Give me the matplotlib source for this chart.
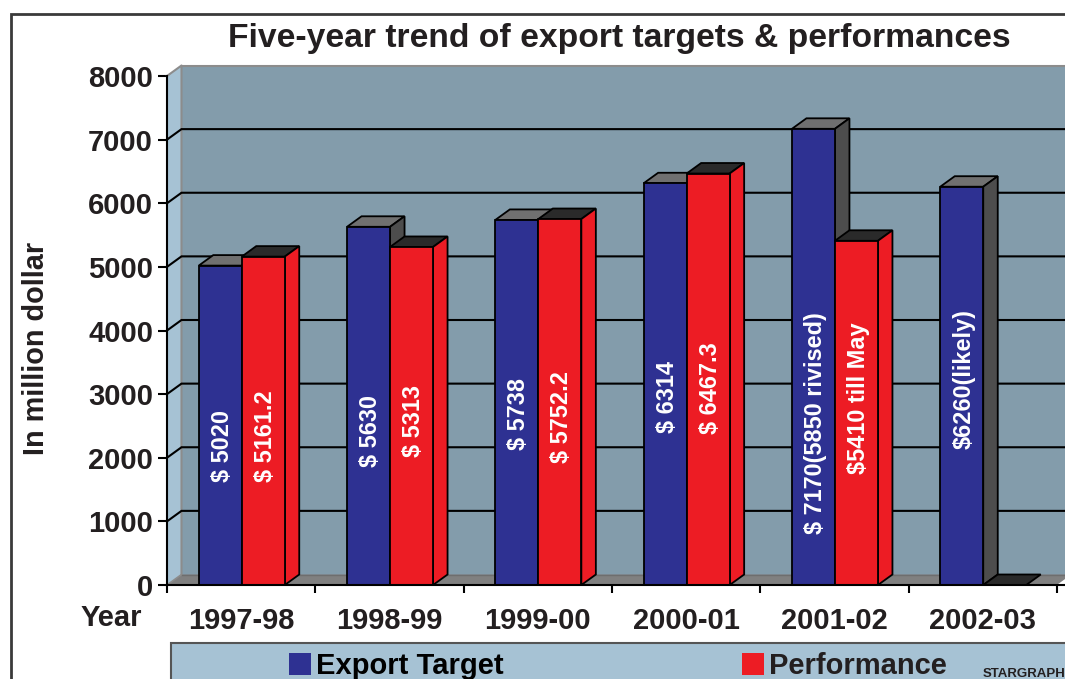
import matplotlib
matplotlib.use("Agg")
import matplotlib.pyplot as plt
from matplotlib.lines import Line2D
from matplotlib.patches import Patch, Polygon, Rectangle

# ---------- data ----------
categories = ["1997-98", "1998-99", "1999-00", "2000-01", "2001-02", "2002-03"]
export_target = [5020, 5630, 5738, 6314, 7170, 6260]
performance = [5161.2, 5313, 5752.2, 6467.3, 5410, 0]
export_labels = ["$ 5020", "$ 5630", "$ 5738", "$ 6314", "$ 7170(5850 rivised)", "$6260(likely)"]
perf_labels = ["$ 5161.2", "$ 5313", "$ 5752.2", "$ 6467.3", "$5410 till May", ""]
yticks = [0, 1000, 2000, 3000, 4000, 5000, 6000, 7000, 8000]
# vertical centre of each rotated label, in axis units
export_label_y = [2185, 2413, 2688, 2955, 2538, 3238]
perf_label_y = [2342, 2578, 2648, 3088, 2939, 0]

# ---------- layout (pixels of the 1065x679 canvas) ----------
W, H = 1065, 679
X0, Y0, Y8000, CAT_W = 167, 585, 76, 148.3
DX = 14.5 / CAT_W                       # depth offset, x units
DY = 10.5 / ((Y0 - Y8000) / 8000)       # depth offset, y units
BAR_W = 43 / CAT_W
XMAX = (W - X0) / CAT_W
LABEL_NUDGE = 2 / CAT_W
BAR_NUDGE = 0.6 / CAT_W

INK = "#231F20"
WALL, SIDE, FLOOR = "#839CAB", "#A6C2D4", "#808080"
BLUE, RED = "#2E3192", "#ED1C24"
BLUE_TOP, BLUE_SIDE = "#707070", "#4D4D4D"
RED_TOP, RED_SIDE = "#2A2A2A", "#ED1C24"
FONT = "Liberation Sans"

plt.rcParams["font.family"] = FONT
plt.rcParams["font.weight"] = "bold"

fig = plt.figure(figsize=(W / 100, H / 100), dpi=100, facecolor="white")
ax = fig.add_axes([X0 / W, (H - Y0) / H, (W - X0) / W, (Y0 - Y8000) / H])
ax.set_xlim(0, XMAX)
ax.set_ylim(0, 8000)
ax.patch.set_visible(False)
for s in ("top", "right"):
    ax.spines[s].set_visible(False)
for s in ("left", "bottom"):
    ax.spines[s].set_linewidth(1.5)
    ax.spines[s].set_color("black")
    ax.spines[s].set_zorder(8)


def poly(pts, fc, ec="none", lw=0, z=1):
    ax.add_patch(Polygon(pts, closed=True, facecolor=fc, edgecolor=ec, linewidth=lw,
                         joinstyle="miter", clip_on=False, zorder=z))


# walls and floor
far = XMAX + 1
poly([(DX, DY), (far, DY), (far, 8000 + DY), (DX, 8000 + DY)], WALL, z=1)
poly([(0, 0), (DX, DY), (DX, 8000 + DY), (0, 8000)], SIDE, z=1)
poly([(0, 0), (6, 0), (6 + DX, DY), (far, DY), (DX, DY)], FLOOR, z=1)
ax.plot([0, DX, DX], [8000, 8000 + DY, DY], color="#8C8C8C", lw=1.5, clip_on=False, zorder=2)
ax.plot([DX, XMAX], [8000 + DY, 8000 + DY], color="#8C8C8C", lw=1.5, clip_on=False, zorder=2)
ax.plot([0, DX], [0, DY], color="#8C8C8C", lw=1.2, clip_on=False, zorder=2)
ax.plot([DX, XMAX], [DY, DY], color="#6E6E6E", lw=1.0, clip_on=False, zorder=2)
for v in yticks[1:-1]:
    ax.plot([0, DX, XMAX], [v, v + DY, v + DY], color="black", lw=1.5,
            clip_on=False, zorder=2, solid_joinstyle="miter")

# bars
xpos = [i + 0.5 + BAR_NUDGE for i in range(len(categories))]
for i in range(len(categories)):
    xb = xpos[i] - BAR_W
    xr = xpos[i]
    for x, v, top, side, z in ((xb, export_target[i], BLUE_TOP, BLUE_SIDE, 3),
                               (xr, performance[i], RED_TOP, RED_SIDE, 4)):
        poly([(x, v), (x + BAR_W, v), (x + BAR_W + DX, v + DY), (x + DX, v + DY)], top,
             "black", 1.3, z)
        if v > 0:
            poly([(x + BAR_W, 0), (x + BAR_W + DX, DY), (x + BAR_W + DX, v + DY), (x + BAR_W, v)],
                 side, "black", 1.3, z)

ax.bar([x - BAR_W / 2 for x in xpos], export_target, BAR_W, color=BLUE, edgecolor="black",
       linewidth=1.3, zorder=3.5, clip_on=False)
ax.bar([x + BAR_W / 2 for x in xpos], performance, BAR_W, color=RED, edgecolor="black",
       linewidth=1.3, zorder=4.5, clip_on=False)

for x, t, y in zip(xpos, export_labels, export_label_y):
    ax.text(x - BAR_W / 2 + LABEL_NUDGE, y, t, rotation=90, ha="center", va="center", color="white",
            fontsize=16.9, fontweight="bold", zorder=6)
for x, t, y in zip(xpos, perf_labels, perf_label_y):
    if t:
        ax.text(x + BAR_W / 2 + LABEL_NUDGE, y, t, rotation=90, ha="center", va="center", color="white",
                fontsize=16.9, fontweight="bold", zorder=6)

# axes ticks and labels
ax.set_yticks(yticks)
ax.set_yticklabels([str(v) for v in yticks], fontsize=21, fontweight="bold", color=INK)
ax.tick_params(axis="y", length=6.5, width=1.5, pad=3.5, color="black")
ax.set_xticks(range(7))
ax.set_xticklabels([])
ax.set_xticks([i + 0.5 for i in range(len(categories))], minor=True)
ax.set_xticklabels(categories, minor=True, fontsize=21, fontweight="bold", color=INK)
ax.tick_params(axis="x", which="major", length=6, width=1.5, color="black")
ax.tick_params(axis="x", which="minor", length=0, pad=16)

fig.text(619 / W, (H - 38) / H, "Five-year trend of export targets & performances", ha="center",
         va="center", fontsize=24.2, fontweight="bold", color=INK)
fig.text(36 / W, (H - 348) / H, "In million dollar", rotation=90, ha="center", va="center",
         fontsize=20.8, fontweight="bold", color=INK)
fig.text(111 / W, (H - 618) / H, "Year", ha="center", va="center", fontsize=21,
         fontweight="bold", color=INK)

# outer frame
fig.add_artist(Line2D([11 / W, 11 / W, 1], [0, (H - 14) / H, (H - 14) / H], color="#3A3A3A",
                      lw=2, solid_joinstyle="miter"))

# legend band
fig.add_artist(Rectangle((171 / W, -0.01), 1, (H - 643) / H + 0.01, facecolor=SIDE,
                         edgecolor="#555555", linewidth=1.5, transform=fig.transFigure))
handles = [Patch(facecolor=BLUE, edgecolor="none", label="Export Target"),
           Patch(facecolor=RED, edgecolor="none", label="Performance")]
leg = fig.legend(handles=handles, loc="lower left", bbox_to_anchor=(289 / W, -1 / H), ncol=2,
                 frameon=False, borderpad=0, borderaxespad=0, handlelength=0.76, handleheight=0.76,
                 handletextpad=0.18, columnspacing=8.15,
                 prop={"family": FONT, "weight": "bold", "size": 21})
leg.set_zorder(10)
for t in leg.get_texts():
    t.set_color(INK)
leg.get_texts()[0].set_color("black")
fig.text(983 / W, (H - 674) / H, "STARGRAPH", ha="left", va="center", fontsize=9.5,
         fontweight="bold", color=INK, zorder=11)

fig.savefig("out.png", dpi=100, facecolor="white")
